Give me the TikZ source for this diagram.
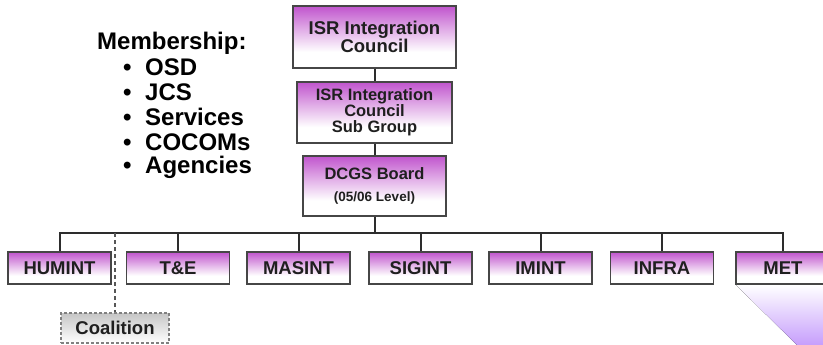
\documentclass[tikz,border=0pt]{standalone}
\usepackage{fontspec}
\setmainfont{Liberation Sans}
\definecolor{boxtop}{RGB}{192,84,205}
\definecolor{edge}{RGB}{70,70,70}
\definecolor{wire}{RGB}{45,45,45}
\definecolor{lav}{RGB}{198,158,252}
% white lower part, fading up into orchid
\pgfdeclareverticalshading{orgshade}{100bp}{color(0bp)=(white); color(25bp)=(white); color(38bp)=(white); color(55bp)=(boxtop!45!white); color(75bp)=(boxtop); color(100bp)=(boxtop)}
\begin{document}
\begin{tikzpicture}[x=1pt,y=-1pt,
  orgbox/.style={draw=edge, line width=1.3pt, shading=orgshade, align=center,
    text=black!88, inner sep=0pt},
  unitbox/.style={orgbox, minimum width=103pt, minimum height=32pt,
    font=\bfseries\fontsize{18.5}{18}\selectfont},
  link/.style={draw=wire, line width=2pt},
  member/.style={anchor=west, inner sep=0pt, font=\bfseries\fontsize{24}{25}\selectfont},
]
\useasboundingbox (0,0) rectangle (823,345);
\clip (0,0) rectangle (823,345);

% corner wedge under MET
\fill[top color=white, bottom color=lav] (736,285) -- (823,285) -- (823,345) -- (797,345) -- cycle;

% membership list
\node[member] (mem) at (97,43) {Membership:};
\node[member] (m1) at (123,67)  {\makebox[22pt][l]{\textbullet}OSD};
\node[member] (m2) at (123,92)  {\makebox[22pt][l]{\textbullet}JCS};
\node[member] (m3) at (123,117) {\makebox[22pt][l]{\textbullet}Services};
\node[member] (m4) at (123,142) {\makebox[22pt][l]{\textbullet}COCOMs};
\node[member] (m5) at (123,167) {\makebox[22pt][l]{\textbullet}Agencies};

% top chain
\node[orgbox, minimum width=163pt, minimum height=62pt,
  font=\bfseries\fontsize{18.5}{17.5}\selectfont] (isr) at (374.5,37) {ISR Integration\\Council};
\node[orgbox, minimum width=155pt, minimum height=61pt,
  font=\bfseries\fontsize{16.5}{16}\selectfont] (sub) at (374.5,112.5) {ISR Integration\\Council\\Sub Group};
\node[orgbox, minimum width=143pt, minimum height=60pt,
  font=\bfseries\fontsize{16.5}{17}\selectfont] (dcgs) at (374.5,186)
  {DCGS Board\\[5pt]{\fontsize{13.5}{13}\selectfont (05/06 Level)}};

% intelligence disciplines
\node[unitbox] (humint) at (59.5,268)  {HUMINT};
\node[unitbox] (te)     at (178,268)   {T\&E};
\node[unitbox] (masint) at (298.5,268) {MASINT};
\node[unitbox] (sigint) at (420.5,268) {SIGINT};
\node[unitbox] (imint)  at (540.5,268) {IMINT};
\node[unitbox] (infra)  at (662,268)   {INFRA};
\node[unitbox, minimum width=94pt] (met) at (783,268) {MET};

\node[draw=gray, line width=1.2pt, dash pattern=on 3pt off 2pt,
  top color=gray!45, bottom color=white, minimum width=108pt, minimum height=30pt,
  inner sep=0pt, text=black!88, font=\bfseries\fontsize{18.5}{18}\selectfont] (coal) at (115,328) {Coalition};

% connectors
\coordinate (bus) at (0,233);
\draw[link] (isr.south) -- (sub.north);
\draw[link] (sub.south) -- (dcgs.north);
\draw[link] (dcgs.south) -- (dcgs.south |- bus);
\draw[link] (humint.north) |- (bus -| met.north) -- (met.north);
\foreach \n in {te,masint,sigint,imint,infra}
  \draw[link] (\n.north |- bus) -- (\n.north);
\draw[draw=wire!80, line width=1.6pt, dash pattern=on 4pt off 3pt] (coal.north |- bus) -- (coal.north);
\end{tikzpicture}
\end{document}
